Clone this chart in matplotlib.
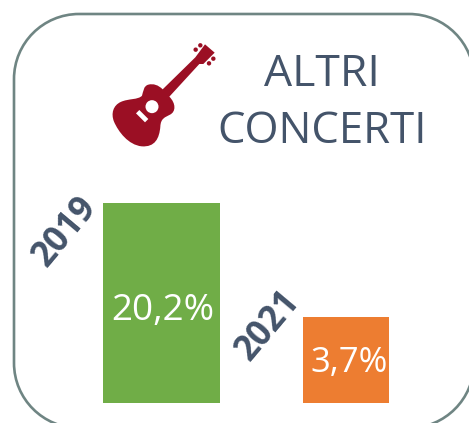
import matplotlib
matplotlib.use("Agg")
import matplotlib.pyplot as plt
from matplotlib.patches import PathPatch, Circle, Polygon
from matplotlib.path import Path

W, H = 469, 423

# bar heights as drawn (the picture's bars are not proportional to their labels)
years = ["2019", "2021"]
bar_values = [20.2, 8.69]
bar_labels = ["20,2%", "3,7%"]
bar_centers = [161.5, 346]
bar_widths = [117, 86]
bar_colors = ["#70ad47", "#ed7d31"]

DARK = "#44546a"
BORDER = "#6f8583"
RED = "#9b0f24"

plt.rcParams["font.family"] = ["Open Sans", "DejaVu Sans"]

fig = plt.figure(figsize=(W / 100, H / 100), dpi=100)

# overlay in pixel coordinates, y down
bg = fig.add_axes([0, 0, 1, 1])
bg.set_xlim(0, W)
bg.set_ylim(H, 0)
bg.axis("off")


# rounded frame, runs off the right and bottom edges
def rounded_box(x0, y0, x1, y1, r):
    k = r * 0.4477  # distance of the bezier handle from the corner
    verts = [(x0 + r, y0), (x1 - r, y0),
             (x1 - k, y0), (x1, y0 + k), (x1, y0 + r), (x1, y1 - r),
             (x1, y1 - k), (x1 - k, y1), (x1 - r, y1), (x0 + r, y1),
             (x0 + k, y1), (x0, y1 - k), (x0, y1 - r), (x0, y0 + r),
             (x0, y0 + k), (x0 + k, y0), (x0 + r, y0)]
    codes = [Path.MOVETO, Path.LINETO,
             Path.CURVE4, Path.CURVE4, Path.CURVE4, Path.LINETO,
             Path.CURVE4, Path.CURVE4, Path.CURVE4, Path.LINETO,
             Path.CURVE4, Path.CURVE4, Path.CURVE4, Path.LINETO,
             Path.CURVE4, Path.CURVE4, Path.CURVE4]
    return Path(verts, codes)


# white face: agg clips unfilled curves at the canvas edge and bends them
bg.add_patch(PathPatch(rounded_box(14, 14, 474, 428, 65), fc="white", ec=BORDER, lw=1.9))

bg.text(322, 75, "ALTRI", ha="center", va="center", fontsize=32, color=DARK)
bg.text(322, 132, "CONCERTI", ha="center", va="center", fontsize=31.5, color=DARK)


def z(x, y):
    return (90 + x / 3, 30 + y / 3)


verts = [z(218, 178), z(316, 82), z(345, 43), z(374, 68), z(340, 102), z(328, 102), z(238, 200),
         z(258, 220), z(258, 245), z(240, 254),
         z(225, 262), z(212, 265), z(211, 290),
         z(208, 325), z(195, 352), z(155, 349),
         z(115, 345), z(85, 305), z(72, 275),
         z(62, 250), z(70, 226), z(92, 216),
         z(115, 205), z(145, 210), z(156, 197),
         z(160, 185), z(160, 168), z(175, 164),
         z(190, 160), z(205, 165), z(218, 178), z(218, 178)]
codes = [Path.MOVETO] + [Path.LINETO] * 6 + [Path.CURVE4] * 24 + [Path.CLOSEPOLY]
bg.add_patch(PathPatch(Path(verts, codes), fc=RED, ec="none"))
bg.add_patch(Circle(z(186, 230), 6.5, fc="white", ec="none"))
bg.add_patch(Polygon([z(148, 240), z(175, 267), z(165, 277), z(138, 250)], fc="white", ec="none"))
for px, py in [(317, 59), (331, 46), (357, 100), (370, 86)]:
    bg.add_patch(Circle(z(px, py), 2.2, fc=RED, ec="none"))

# bars: baseline at y = 403 px, 200 px tall for 20.2
ax = fig.add_axes([0, 20 / H, 1, 383 / H])
ax.patch.set_alpha(0)
ax.set_xlim(0, W)
ax.set_ylim(0, 383 / 200 * 20.2)
ax.axis("off")
bars = ax.bar(bar_centers, bar_values, width=bar_widths, color=bar_colors)

label_y = [0.46, 0.47]
label_x = [1, 3]
label_size = [26.5, 25]
for bar, lab, fy, dx, fs in zip(bars, bar_labels, label_y, label_x, label_size):
    ax.text(bar.get_x() + bar.get_width() / 2 + dx, bar.get_height() * fy, lab,
            ha="center", va="center", fontsize=fs, color="white")

bg.text(65, 232, years[0], ha="center", va="center", rotation=50, fontsize=25,
        fontweight="bold", color=DARK)
bg.text(268, 326, years[1], ha="center", va="center", rotation=50, fontsize=25,
        fontweight="bold", color=DARK)

fig.savefig("out.png", dpi=100)
